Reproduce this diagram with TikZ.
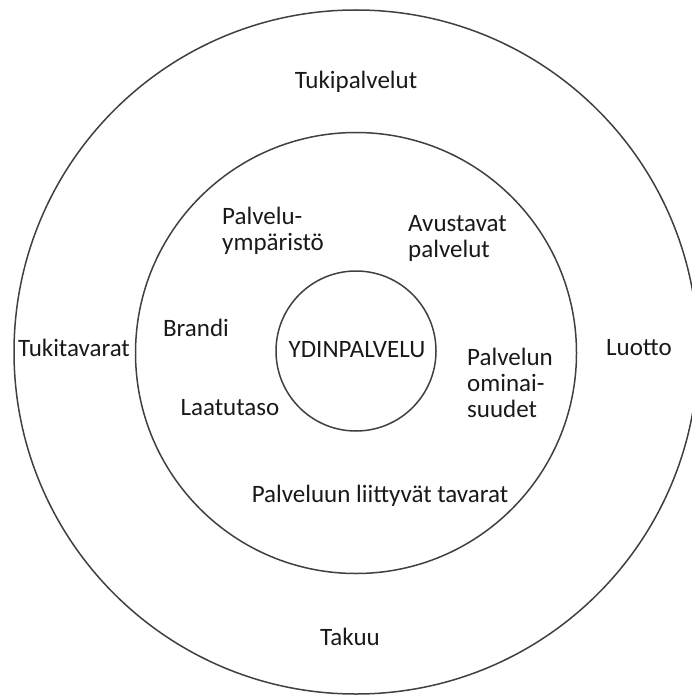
\documentclass[tikz,border=0pt]{standalone}
\usepackage{fontspec}
\setmainfont{Carlito}
\begin{document}
\begin{tikzpicture}[x=1pt,y=-1pt,
  ring/.style={draw=black!75,line width=1.5pt,circle,minimum size=#1,inner sep=0pt},
  lbl/.style={text=black!90,font=\fontsize{25}{26}\selectfont,inner sep=0pt},
  lbll/.style={lbl,align=left}]
\useasboundingbox (0,0) rectangle (691,695);
\node[ring=684pt] (outer) at (356,352) {};
\node[ring=441pt] (middle) at (356,353) {};
\node[ring=160pt] (inner) at (356,351) {};
\node[lbl] (core) at (357,350) {YDINPALVELU};
\node[lbl] (tuki) at (356,82) {Tukipalvelut};
\node[lbl] (tukit) at (74,348) {Tukitavarat};
\node[lbl] (luotto) at (639,348) {Luotto};
\node[lbl] (takuu) at (350,637) {Takuu};
\node[lbll,anchor=west] (ymp) at (222,231) {Palvelu-\\ympäristö};
\node[lbll,anchor=west] (avu) at (408,238) {Avustavat\\palvelut};
\node[lbl] (brandi) at (196,328) {Brandi};
\node[lbll,anchor=west] (omin) at (467,383) {Palvelun\\ominai-\\suudet};
\node[lbl] (laatu) at (230,408) {Laatutaso};
\node[lbl] (tavarat) at (380,496) {Palveluun liittyvät tavarat};
\end{tikzpicture}
\end{document}
